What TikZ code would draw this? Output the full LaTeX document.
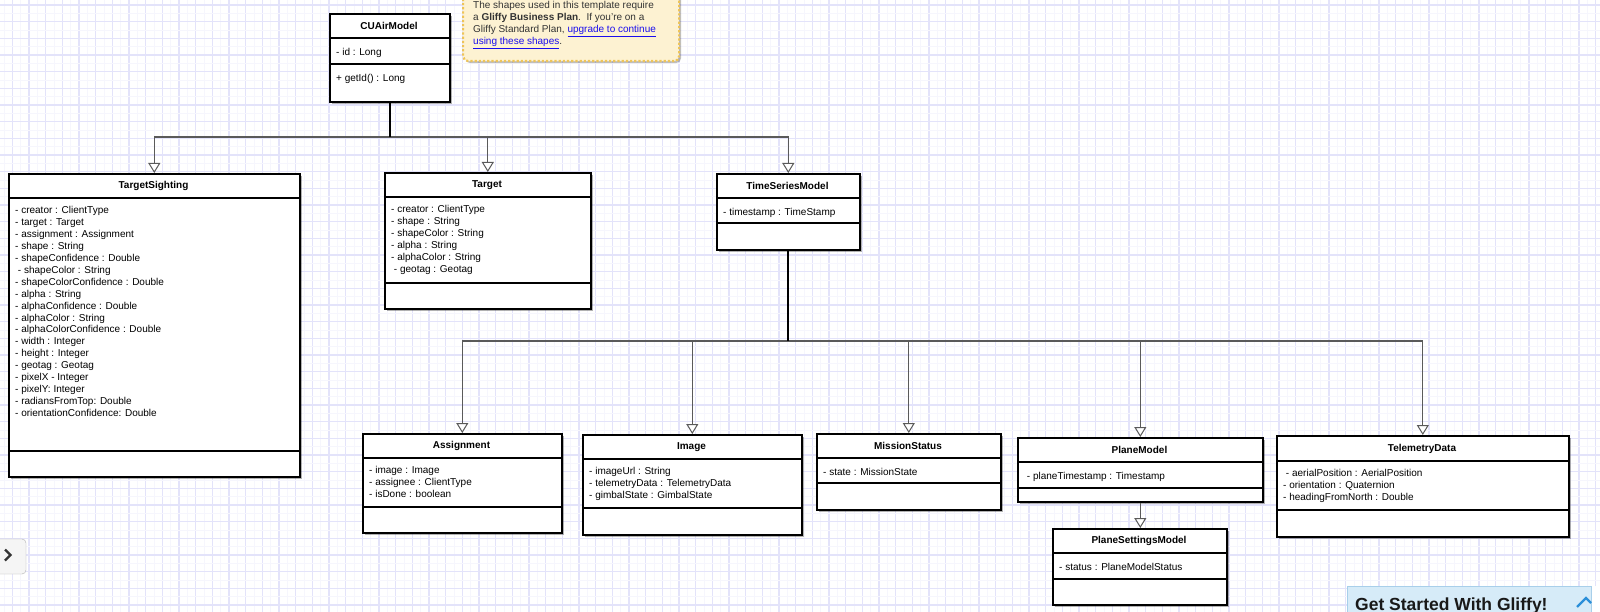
\documentclass[tikz,border=0pt]{standalone}
\usepackage{fontspec}
\setmainfont{Liberation Sans}
\usetikzlibrary{arrows.meta,shadows}
\definecolor{gridc}{HTML}{E3E3FA}
\definecolor{gridminor}{HTML}{F6F6FD}
\definecolor{notefill}{HTML}{FDF2D2}
\definecolor{noteborder}{HTML}{EEC458}
\definecolor{linkblue}{HTML}{1A0DEE}
\definecolor{bannerfill}{HTML}{D6EBF8}
\definecolor{bannerline}{HTML}{A8CFEA}
\definecolor{chevblue}{HTML}{2B8FD9}
\definecolor{branchc}{HTML}{5A5A5A}
\tikzset{
  umlbox/.style={draw=black, line width=1.6pt, fill=white, inner sep=0pt,
    drop shadow={shadow xshift=2pt, shadow yshift=-2pt, opacity=0.3, fill=black}},
  divider/.style={line width=1.6pt},
  titletext/.style={font=\bfseries\fontsize{10}{12}\selectfont, inner sep=0pt},
  attrtext/.style={font=\fontsize{10}{11.9}\selectfont, align=left, anchor=north west, inner sep=0pt,
    execute at begin node={\rule{0pt}{9pt}}},
  gridline/.style={draw=gridc, line width=1.1pt},
  gridminorline/.style={draw=gridminor, line width=0.8pt},
  trunk/.style={draw=black, line width=1.8pt},
  branch/.style={draw=branchc, line width=1.3pt,
    -{Triangle[fill=white, width=12pt, length=10pt, line width=1pt]}},
  notebox/.style={draw=noteborder, dotted, line width=2.2pt, fill=notefill, rounded corners=5pt,
    drop shadow={shadow xshift=2pt, shadow yshift=-2pt, opacity=0.25, fill=black}},
  notetext/.style={font=\fontsize{10}{12}\selectfont, align=left, anchor=north west, inner sep=0pt, text=black!80,
    execute at begin node={\rule{0pt}{9pt}}},
}
% #1 name, #2 left, #3 top, #4 right, #5 div1, #6 div2, #7 bottom, #8 title, #9 attributes
\newcommand\umlclass[9]{%
  \node[umlbox, anchor=north west, minimum width={(#4-#2)*1pt}, minimum height={(#7-#3)*1pt}] (#1) at (#2,#3) {};
  \draw[divider] (#2,#5) -- (#4,#5);
  \draw[divider] (#2,#6) -- (#4,#6);
  \node[titletext] (#1-title) at ({(#2+#4)/2},{(#3+#5)/2+0.5}) {#8};
  \node[attrtext] (#1-attrs) at ({#2+7},{#5+8.5}) {#9};
}
\begin{document}
\begin{tikzpicture}[x=1pt, y=-1pt]
\useasboundingbox (0,0) rectangle (1600,612);
\clip (0,0) rectangle (1600,612);
\fill[white] (0,0) rectangle (1600,612);
\foreach \k in {0,...,96} {
  \draw[gridminorline] ({4+\k*16.667},0) -- ({4+\k*16.667},612);
  \draw[gridline] ({12.3+\k*16.667},0) -- ({12.3+\k*16.667},612);
}
\foreach \k in {0,...,37} {
  \draw[gridminorline] (0,{13.3+\k*16.667}) -- (1600,{13.3+\k*16.667});
  \draw[gridline] (0,{5+\k*16.667}) -- (1600,{5+\k*16.667});
}

% note
\node[notebox, anchor=north west, minimum width=216pt, minimum height=72pt] (note) at (462,-12) {};
\node[notetext] (notetxt) at (473,1.5) {The shapes used in this template require\\
a \textbf{Gliffy Business Plan}.\ \ If you're on a\\
Gliffy Standard Plan, {\color{linkblue}\underline{upgrade to continue}}\\
{\color{linkblue}\underline{using these shapes}}.};

% classes
\umlclass{CUAirModel}{329}{13}{449}{38}{64}{101}{CUAirModel}{- id : Long}
\node[attrtext] (CUAirModel-methods) at (336,72.5) {+ getId() : Long};

\umlclass{TargetSighting}{8}{173}{299}{198}{451}{476}{TargetSighting}{- creator : ClientType\\
- target : Target\\
- assignment : Assignment\\
- shape : String\\
- shapeConfidence : Double\\
\ - shapeColor : String\\
- shapeColorConfidence : Double\\
- alpha : String\\
- alphaConfidence : Double\\
- alphaColor : String\\
- alphaColorConfidence : Double\\
- width : Integer\\
- height : Integer\\
- geotag : Geotag\\
- pixelX - Integer\\
- pixelY: Integer\\
- radiansFromTop: Double\\
- orientationConfidence: Double}

\umlclass{Target}{384}{172}{590}{197}{283}{308}{Target}{- creator : ClientType\\
- shape : String\\
- shapeColor : String\\
- alpha : String\\
- alphaColor : String\\
\ - geotag : Geotag}

\umlclass{TimeSeriesModel}{716}{173}{859}{198}{223}{249}{TimeSeriesModel}{- timestamp : TimeStamp}

\umlclass{Assignment}{362}{433}{561}{458}{507}{532}{Assignment}{- image : Image\\
- assignee : ClientType\\
- isDone : boolean}

\umlclass{Image}{582}{434}{801}{459}{508}{534}{Image}{- imageUrl : String\\
- telemetryData : TelemetryData\\
- gimbalState : GimbalState}

\umlclass{MissionStatus}{816}{433}{1000}{458}{483}{509}{MissionStatus}{- state : MissionState}

\umlclass{PlaneModel}{1017}{437}{1262}{462}{488}{501}{PlaneModel}{\ - planeTimestamp : Timestamp}

\umlclass{PlaneSettingsModel}{1052}{528}{1226}{553}{579}{604}{PlaneSettingsModel}{- status : PlaneModelStatus}

\umlclass{TelemetryData}{1276}{435}{1568}{461}{510}{536}{TelemetryData}{\ - aerialPosition : AerialPosition\\
- orientation : Quaternion\\
- headingFromNorth : Double}

% connectors from CUAirModel
\coordinate (topbus) at (CUAirModel.south |- 0,137);
\draw[branch] (topbus) -| (TargetSighting.north);
\draw[branch] (topbus) -| (Target.north);
\draw[branch] (topbus) -| (TimeSeriesModel.north);
\draw[trunk] (CUAirModel.south) -- (topbus);

% connectors from TimeSeriesModel
\coordinate (lowbus) at (TimeSeriesModel.south |- 0,341);
\draw[branch] (lowbus) -| (Assignment.north);
\draw[branch] (lowbus) -| (Image.north);
\draw[branch] (lowbus) -| (MissionStatus.north);
\draw[branch] (lowbus) -| (PlaneModel.north);
\draw[branch] (lowbus) -| (TelemetryData.north);
\draw[trunk] (TimeSeriesModel.south) -- (lowbus);

\draw[branch] (PlaneModel.south) -- (PlaneModel.south |- PlaneSettingsModel.north);

% side button
\node[draw=black!30, fill=black!4, rounded corners=4pt, minimum width=32pt, minimum height=35pt, inner sep=0pt] (sidebtn) at (10,556.5) {};
\draw[line width=2.3pt, black!80] (5,549.5) -- (10.5,555) -- (5,560.5);

% banner
\node[draw=bannerline, fill=bannerfill, anchor=north west, minimum width=244pt, minimum height=34pt, inner sep=0pt] (banner) at (1347,586) {};
\node[font=\bfseries\fontsize{17.5}{20}\selectfont, anchor=base west, inner sep=0pt, text=black!90] (bannertxt) at (1355,610.5) {Get Started With Gliffy!};
\draw[line width=2.4pt, chevblue] (1577,607) -- (1586,598) -- (1591,603);
\fill[white] (1591.5,586) rectangle (1600,612);
\end{tikzpicture}
\end{document}
